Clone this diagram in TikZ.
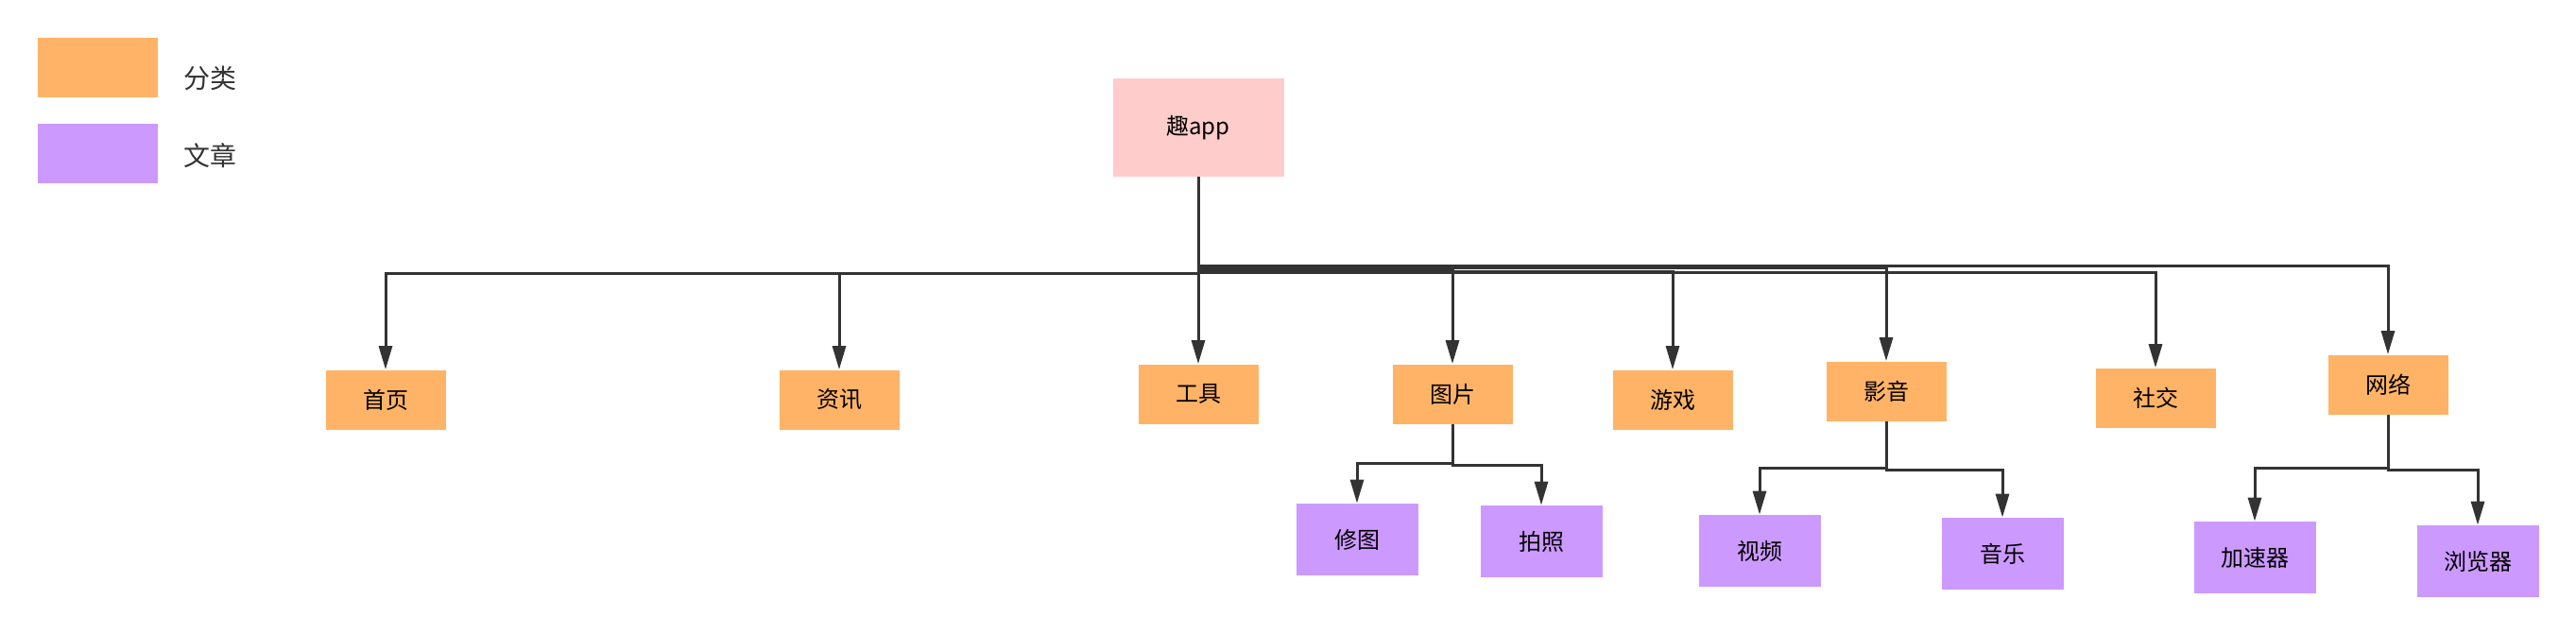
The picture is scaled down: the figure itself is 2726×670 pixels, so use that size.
\documentclass[tikz,border=0pt]{standalone}
\usepackage{fontspec}
\newfontfamily\cjk{Noto Sans CJK SC}
\usetikzlibrary{positioning, arrows.meta}
\definecolor{fenlei}{HTML}{FFB366}
\definecolor{wenzhang}{HTML}{CC99FF}
\definecolor{gen}{HTML}{FFCCCC}
\definecolor{xian}{HTML}{333333}
\tikzset{
  cat/.style={fill=fenlei, minimum width=63.5pt, minimum height=31.5pt, inner sep=0pt, font=\cjk\fontsize{12}{14}\selectfont},
  art/.style={fill=wenzhang, minimum width=64.5pt, minimum height=38pt, inner sep=0pt, font=\cjk\fontsize{12}{14}\selectfont},
  arr/.style={draw=xian, line width=1.5pt, -{Triangle[length=12.5pt, width=7pt]}},
}
\begin{document}
\begin{tikzpicture}[x=0.5pt, y=-0.5pt]
\useasboundingbox (0,0) rectangle (2726,670);
% legend
\node[fill=fenlei, minimum width=63.5pt, minimum height=31.5pt, inner sep=0pt] (lgfenlei) at (103,71) {};
\node[fill=wenzhang, minimum width=63.5pt, minimum height=31.5pt, inner sep=0pt] (lgwenzhang) at (103,162) {};
\node[text=xian, font=\cjk\fontsize{14}{16}\selectfont] (tfenlei) at (222,83) {分类};
\node[text=xian, font=\cjk\fontsize{14}{16}\selectfont] (twenzhang) at (222,165) {文章};
% root
\node[fill=gen, minimum width=90.5pt, minimum height=52pt, inner sep=0pt, font=\cjk\fontsize{12}{14}\selectfont] (qu) at (1268,135) {趣app};
% categories
\node[cat] (shouye) at (408,423) {首页};
\node[cat] (zixun) at (888,423) {资讯};
\node[cat] (gongju) at (1268,417) {工具};
\node[cat] (tupian) at (1537,417) {图片};
\node[cat] (youxi) at (1770,423) {游戏};
\node[cat] (yingyin) at (1996,414) {影音};
\node[cat] (shejiao) at (2281,421) {社交};
\node[cat] (wangluo) at (2527,407) {网络};
% articles
\node[art] (xiutu) at (1436,571) {修图};
\node[art] (paizhao) at (1631,573) {拍照};
\node[art] (shipin) at (1862,583) {视频};
\node[art] (yinyue) at (2119,586) {音乐};
\node[art] (jiasuqi) at (2386,590) {加速器};
\node[art] (liulanqi) at (2622,594) {浏览器};
% connectors
\foreach \c/\h in {shouye/289, zixun/289, tupian/285, youxi/287, yingyin/283, shejiao/288, wangluo/281}
  \draw[arr] (qu.south) -- (qu.south |- 0,\h) -| (\c.north);
\draw[arr] (qu) -- (gongju);
\foreach \p/\c/\h in {tupian/xiutu/490, tupian/paizhao/492, yingyin/shipin/495, yingyin/yinyue/497, wangluo/jiasuqi/495, wangluo/liulanqi/497}
  \draw[arr] (\p.south) -- (\p.south |- 0,\h) -| (\c.north);
\end{tikzpicture}
\end{document}
